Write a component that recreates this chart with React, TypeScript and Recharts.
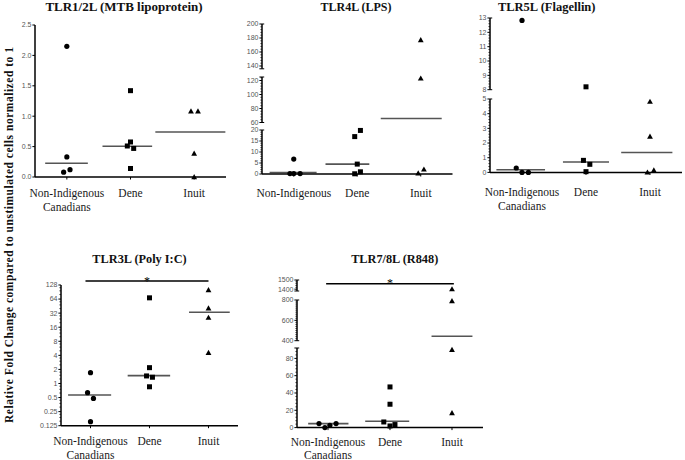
import React from 'react';
import { ScatterChart, Scatter, XAxis, YAxis, ReferenceLine } from 'recharts';

const SERIF = "Tinos, 'Times New Roman', serif";
const SANS = "'Liberation Sans', Arial, sans-serif";

const Y_LABEL = 'Relative Fold Change compared to unstimulated cells normalized to 1';
const PANEL_TITLES = ['TLR1/2L (MTB lipoprotein)', 'TLR4L (LPS)', 'TLR5L (Flagellin)', 'TLR3L (Poly I:C)', 'TLR7/8L (R848)'];
const X_LABELS_FULL = [['Non-Indigenous', 'Canadians'], ['Dene'], ['Inuit']];
const X_LABELS_SHORT = [['Non-Indigenous'], ['Dene'], ['Inuit']];

// TLR1/2L (MTB lipoprotein)
const tlr12NonInd = [2.15, 0.33, 0.08, 0.12];
const tlr12NonIndJitter = [0, 0, -0.05, 0.05];
const tlr12Dene = [1.42, 0.576, 0.51, 0.47, 0.14];
const tlr12DeneJitter = [0, 0, -0.05, 0.05, 0];
const tlr12Inuit = [1.08, 1.08, 0.385, 0];
const tlr12InuitJitter = [-0.05, 0.06, 0, 0];
const tlr12Medians = [0.225, 0.505, 0.74];
const tlr12MedianSpans = [[0.66, 1.33], [1.56, 2.34], [2.39, 3.49]];
const tlr12Ticks = [0, 0.5, 1, 1.5, 2, 2.5];

// TLR4L (LPS)
const tlr4NonInd = [6.8, 0.2, 0.2, 0.2];
const tlr4NonIndJitter = [0, -0.06, 0, 0.1];
const tlr4Dene = [19.8, 17, 4.5, 1, 0.1];
const tlr4DeneJitter = [0.05, -0.04, 0, 0.05, -0.04];
const tlr4Inuit = [177, 123, 2.1, 0.3];
const tlr4InuitJitter = [0, 0, 0.05, -0.04];
const tlr4Medians = [0.7, 4.5, 65.7];
const tlr4MedianSpans = [[0.62, 1.36], [1.5, 2.19], [2.37, 3.33]];
const tlr4TicksLow = [0, 5, 10, 15, 20];
const tlr4TicksMid = [60, 80, 100, 120];
const tlr4TicksHigh = [140, 160, 180, 200];

// TLR5L (Flagellin)
const tlr5NonInd = [12.83, 0.3, 0, 0];
const tlr5NonIndJitter = [0, -0.09, 0, 0.1];
const tlr5Dene = [8.2, 0.82, 0.55, 0.05];
const tlr5DeneJitter = [0, -0.04, 0.06, 0];
const tlr5Inuit = [4.82, 2.45, 0.14, 0];
const tlr5InuitJitter = [0, 0, 0.06, -0.04];
const tlr5Medians = [0.18, 0.71, 1.36];
const tlr5MedianSpans = [[0.6, 1.36], [1.64, 2.36], [2.55, 3.35]];
const tlr5TicksLow = [0, 1, 2, 3, 4, 5];
const tlr5TicksHigh = [8, 9, 10, 11, 12, 13];

// TLR3L (Poly I:C)
const tlr3NonInd = [1.7, 0.635, 0.48, 0.152];
const tlr3NonIndJitter = [0, -0.05, 0.05, 0];
const tlr3Dene = [68, 2.18, 1.45, 1.36, 0.85];
const tlr3DeneJitter = [0, 0, -0.05, 0.05, 0];
const tlr3Inuit = [100, 40.6, 25.6, 4.55];
const tlr3InuitJitter = [0, 0, 0, 0];
const tlr3Medians = [0.566, 1.47, 33.4];
const tlr3MedianSpans = [[0.62, 1.35], [1.63, 2.35], [2.67, 3.36]];
const tlr3Ticks = [0.125, 0.25, 0.5, 1, 2, 4, 8, 16, 32, 64, 128];
const tlr3Sig = { y: 155, x1: 0.915, x2: 3.0 };

// TLR7/8L (R848)
const tlr78NonInd = [4.6, 0, 2.7, 4.6];
const tlr78NonIndJitter = [-0.145, -0.05, 0.03, 0.13];
const tlr78Dene = [47, 27, 6.5, 1.9, 3.5];
const tlr78DeneJitter = [0, 0, -0.1, 0, 0.08];
const tlr78Inuit = [1400, 790, 90, 16.9];
const tlr78InuitJitter = [0, 0, 0, 0];
const tlr78Medians = [4.6, 7.3, 443];
const tlr78MedianSpans = [[0.68, 1.33], [1.6, 2.31], [2.67, 3.33]];
const tlr78TicksLow = [0, 20, 40, 60, 80];
const tlr78TicksMid = [400, 600, 800];
const tlr78TicksHigh = [1400, 1500];
const tlr78Sig = { y: 1460, x1: 0.97, x2: 3.03 };

type Pt = { x: number; y: number };
type ShapeName = 'circle' | 'square' | 'triangle';
type Group = { pts: Pt[]; shape: ShapeName };
type Median = { y: number; x1: number; x2: number };
type Seg = {
  domain: [number, number]; top: number; bottom: number;
  majors: number[]; minors: number[]; caps: number[];
  log?: boolean; mt?: number; sig?: Median; showX?: boolean;
};
type Panel = {
  title: string; titleX: number; titleY: number; titleSize: number;
  left: number; right: number; segs: Seg[]; groups: Group[]; medians: Median[];
  labels: string[][]; labelDy: number; fmt: (v: number) => string;
};

const range = (a: number, b: number, s: number) => {
  const out: number[] = [];
  for (let v = a; v <= b + 1e-9; v += s) out.push(Math.round(v * 1000) / 1000);
  return out;
};

const logMinors = (() => {
  const out: number[] = [];
  for (let k = -3; k < 7; k++) {
    const base = Math.pow(2, k);
    [1.25, 1.5, 1.75].forEach((f) => out.push(base * f));
  }
  return out;
})();

const mkGroups = (vals: number[][], jit: number[][]): Group[] => {
  const shapes: ShapeName[] = ['circle', 'square', 'triangle'];
  return vals.map((v, g) => ({ shape: shapes[g], pts: v.map((y, i) => ({ x: g + 1 + jit[g][i], y })) }));
};
const mkMedians = (m: number[], spans: number[][]): Median[] => m.map((y, i) => ({ y, x1: spans[i][0], x2: spans[i][1] }));

const shapeFns: Record<ShapeName, (p: any) => React.ReactElement> = {
  circle: (p: any) => <circle cx={p.cx} cy={p.cy} r={2.6} fill="#000" />,
  square: (p: any) => <rect x={p.cx - 2.5} y={p.cy - 2.5} width={5} height={5} fill="#000" />,
  triangle: (p: any) => (
    <polygon points={`${p.cx},${p.cy - 3} ${p.cx + 2.9},${p.cy + 2.2} ${p.cx - 2.9},${p.cy + 2.2}`} fill="#000" />
  ),
};

const num = (v: number) => String(v);

const PANELS: Panel[] = [
  {
    title: PANEL_TITLES[0], titleX: 124, titleY: 11, titleSize: 13, left: 34.7, right: 225.7,
    segs: [{ domain: [0, 2.5], top: 24.7, bottom: 176.7, majors: tlr12Ticks, minors: [], caps: [], showX: true }],
    groups: mkGroups([tlr12NonInd, tlr12Dene, tlr12Inuit], [tlr12NonIndJitter, tlr12DeneJitter, tlr12InuitJitter]),
    medians: mkMedians(tlr12Medians, tlr12MedianSpans), labels: X_LABELS_FULL, labelDy: 20.3,
    fmt: (v) => v.toFixed(1),
  },
  {
    title: PANEL_TITLES[1], titleX: 356, titleY: 11, titleSize: 12, left: 261.5, right: 452,
    segs: [
      { domain: [0, 20], top: 130, bottom: 174, majors: tlr4TicksLow, minors: range(1, 19, 1), caps: [20], showX: true },
      { domain: [60, 125], top: 76.5, bottom: 122, majors: tlr4TicksMid, minors: range(64, 124, 4), caps: [60, 125] },
      { domain: [136, 200], top: 24, bottom: 68.8, majors: tlr4TicksHigh, minors: range(144, 196, 4), caps: [136, 200] },
    ],
    groups: mkGroups([tlr4NonInd, tlr4Dene, tlr4Inuit], [tlr4NonIndJitter, tlr4DeneJitter, tlr4InuitJitter]),
    medians: mkMedians(tlr4Medians, tlr4MedianSpans), labels: X_LABELS_SHORT, labelDy: 23.3, fmt: num,
  },
  {
    title: PANEL_TITLES[2], titleX: 546.7, titleY: 11, titleSize: 12.5, left: 490, right: 682,
    segs: [
      { domain: [0, 5], top: 99.3, bottom: 172.7, majors: tlr5TicksLow, minors: range(0.2, 4.8, 0.2), caps: [5], showX: true },
      { domain: [8, 13], top: 18.3, bottom: 90, majors: tlr5TicksHigh, minors: range(8.2, 12.8, 0.2), caps: [8, 13] },
    ],
    groups: mkGroups([tlr5NonInd, tlr5Dene, tlr5Inuit], [tlr5NonIndJitter, tlr5DeneJitter, tlr5InuitJitter]),
    medians: mkMedians(tlr5Medians, tlr5MedianSpans), labels: X_LABELS_FULL, labelDy: 24, fmt: num,
  },
  {
    title: PANEL_TITLES[3], titleX: 139.5, titleY: 263, titleSize: 12.3, left: 61, right: 238,
    segs: [
      { domain: [0.125, 128], top: 285, bottom: 425.7, majors: tlr3Ticks, minors: logMinors, caps: [], log: true, mt: 22, sig: tlr3Sig, showX: true },
    ],
    groups: mkGroups([tlr3NonInd, tlr3Dene, tlr3Inuit], [tlr3NonIndJitter, tlr3DeneJitter, tlr3InuitJitter]),
    medians: mkMedians(tlr3Medians, tlr3MedianSpans), labels: X_LABELS_FULL, labelDy: 19.5, fmt: num,
  },
  {
    title: PANEL_TITLES[4], titleX: 394.7, titleY: 263, titleSize: 12.3, left: 297, right: 483,
    segs: [
      { domain: [0, 92], top: 347.7, bottom: 427.3, majors: tlr78TicksLow, minors: range(4, 88, 4), caps: [92], showX: true },
      { domain: [400, 800], top: 300, bottom: 340.7, majors: tlr78TicksMid, minors: range(420, 780, 20), caps: [400, 800] },
      { domain: [1380, 1500], top: 280, bottom: 291, majors: tlr78TicksHigh, minors: [1420, 1440, 1460, 1480], caps: [1380, 1500], mt: 18, sig: tlr78Sig },
    ],
    groups: mkGroups([tlr78NonInd, tlr78Dene, tlr78Inuit], [tlr78NonIndJitter, tlr78DeneJitter, tlr78InuitJitter]),
    medians: mkMedians(tlr78Medians, tlr78MedianSpans), labels: X_LABELS_FULL, labelDy: 18, fmt: num,
  },
];

const near = (arr: number[], v: number) => arr.some((m) => Math.abs(m - v) < 1e-6 * Math.max(1, Math.abs(m)));

function YTick(props: any) {
  const { x, y, payload, majors, caps, fmt } = props;
  const v = payload.value;
  const major = near(majors, v);
  const cap = near(caps, v);
  const len = major || cap ? 2.6 : 1.6;
  return (
    <g>
      <line x1={x - len} x2={cap ? x + 2.2 : x} y1={y} y2={y} stroke="#000" strokeWidth={major || cap ? 1 : 0.7} />
      {major && (
        <text x={x - 3.5} y={y + 2.4} textAnchor="end" fill="#555" style={{ fontFamily: SANS, fontSize: 7 }}>
          {fmt(v)}
        </text>
      )}
    </g>
  );
}

function XTick(props: any) {
  const { x, y, payload, labels, dy } = props;
  const lines: string[] = labels[Math.round(payload.value) - 1] || [];
  return (
    <g>
      <line x1={x} x2={x} y1={y} y2={y + 2.5} stroke="#000" strokeWidth={1} />
      <text x={x} y={y + dy} textAnchor="middle" fill="#1a1a1a" style={{ fontFamily: SERIF, fontSize: 11.5 }}>
        {lines.map((l, i) => (
          <tspan key={i} x={x} dy={i === 0 ? 0 : 13.5}>{l}</tspan>
        ))}
      </text>
    </g>
  );
}

function StarLabel(props: any) {
  const { viewBox } = props;
  const cx = viewBox.x + viewBox.width / 2;
  return (
    <text x={cx} y={viewBox.y + 3.5} textAnchor="middle" fill="#000" style={{ fontFamily: SERIF, fontSize: 12 }}>
      *
    </text>
  );
}

function SegChart({ panel, seg }: { panel: Panel; seg: Seg }) {
  const YW = 32, MR = 8, XH = 48, MB = 8;
  const MT = seg.mt ?? 8;
  const showX = !!seg.showX;
  const plotW = panel.right - panel.left;
  const plotH = seg.bottom - seg.top;
  const width = YW + plotW + MR;
  const height = MT + plotH + (showX ? XH : MB);
  const [lo, hi] = seg.domain;
  const inR = (v: number) => v >= lo - 1e-9 && v <= hi + 1e-9;
  const ticks = Array.from(new Set([...seg.majors, ...seg.minors, ...seg.caps])).sort((a, b) => a - b);
  return (
    <div style={{ position: 'absolute', left: panel.left - YW, top: seg.top - MT, width, height }}>
      <ScatterChart width={width} height={height} margin={{ top: MT, right: MR, bottom: showX ? 0 : MB, left: 0 }}>
        <XAxis
          type="number" dataKey="x" domain={[0.5, 3.5]} ticks={[1, 2, 3]} interval={0}
          hide={!showX} height={XH} tickSize={0} tickMargin={0} tickLine={false}
          axisLine={{ stroke: '#000', strokeWidth: 1.5 }}
          tick={(tp: any) => <XTick {...tp} labels={panel.labels} dy={panel.labelDy} />}
        />
        <YAxis
          type="number" dataKey="y" domain={seg.domain} scale={seg.log ? 'log' : 'linear'}
          ticks={ticks} interval={0} width={YW} tickSize={0} tickMargin={0} tickLine={false}
          axisLine={{ stroke: '#000', strokeWidth: 1.5 }}
          tick={(tp: any) => <YTick {...tp} majors={seg.majors} caps={seg.caps} fmt={panel.fmt} />}
        />
        {panel.medians.filter((m) => inR(m.y)).map((m, i) => (
          <ReferenceLine
            key={'m' + i}
            segment={[{ x: m.x1, y: m.y }, { x: m.x2, y: m.y }]}
            stroke="#555" strokeWidth={1.6} ifOverflow="visible"
          />
        ))}
        {panel.groups.map((g, i) => (
          <Scatter key={'g' + i} data={g.pts.filter((p) => inR(p.y))} shape={shapeFns[g.shape]} isAnimationActive={false} />
        ))}
        {seg.sig && (
          <ReferenceLine
            segment={[{ x: seg.sig.x1, y: seg.sig.y }, { x: seg.sig.x2, y: seg.sig.y }]}
            stroke="#000" strokeWidth={1.5} ifOverflow="visible"
            label={<StarLabel />}
          />
        )}
      </ScatterChart>
    </div>
  );
}

export default function App() {
  return (
    <div style={{ position: 'absolute', left: 0, top: 0, width: 685, height: 460, background: '#fff', overflow: 'hidden' }}>
      <svg width={685} height={460} style={{ position: 'absolute', left: 0, top: 0 }}>
        {PANELS.map((p, i) => (
          <text key={i} x={p.titleX} y={p.titleY} textAnchor="middle" fill="#111" style={{ fontFamily: SERIF, fontSize: p.titleSize, fontWeight: 'bold' }}>
            {p.title}
          </text>
        ))}
        <text
          transform="translate(9,235) rotate(-90)" textAnchor="middle" dominantBaseline="central"
          fill="#111" textLength={376} lengthAdjust="spacing"
          style={{ fontFamily: SERIF, fontSize: 11.5, fontWeight: 'bold' }}
        >
          {Y_LABEL}
        </text>
      </svg>
      {PANELS.map((p, i) => p.segs.map((s, j) => <SegChart key={i + '-' + j} panel={p} seg={s} />))}
    </div>
  );
}
